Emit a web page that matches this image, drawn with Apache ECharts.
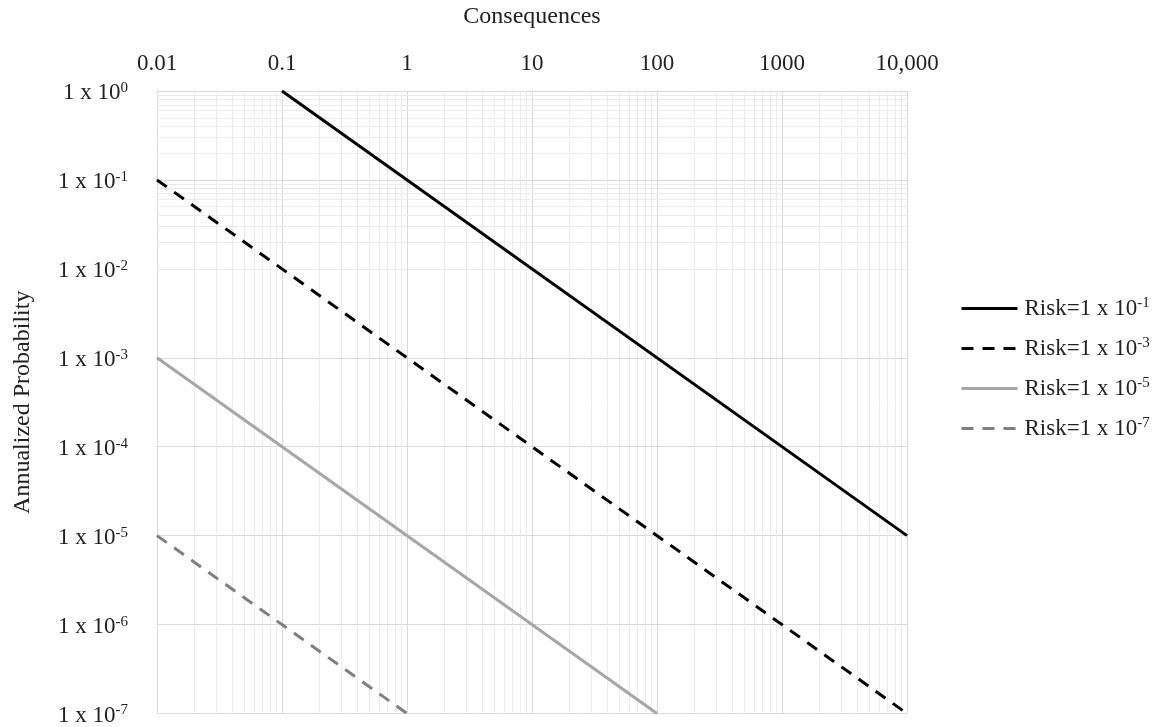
<!DOCTYPE html>
<html>
<head>
<meta charset="utf-8">
<script src="https://cdn.jsdelivr.net/npm/echarts@6/dist/echarts.min.js"></script>
<style>
  html, body { margin: 0; padding: 0; background: #fff; }
  #chart { width: 1157px; height: 727px; }
</style>
</head>
<body>
<div id="chart"></div>
<script>
// axis ticks
var xTickLabels = ['0.01', '0.1', '1', '10', '100', '1000', '10,000'];
var xMin = 0.01, xMax = 10000;
var yMin = 1e-7, yMax = 1;

// risk lines: [consequence, annualized probability] end points
var riskNames = ['Risk=1 x 10{s|-1}', 'Risk=1 x 10{s|-3}', 'Risk=1 x 10{s|-5}', 'Risk=1 x 10{s|-7}'];
var risk1 = [[0.1, 1], [10000, 1e-5]];
var risk3 = [[0.01, 0.1], [10000, 1e-7]];
var risk5 = [[0.01, 1e-3], [100, 1e-7]];
var risk7 = [[0.01, 1e-5], [1, 1e-7]];

// minor grid (2..9 within each decade)
var mantissas = [2, 3, 4, 5, 6, 7, 8, 9];
var xDecades = [0.01, 0.1, 1, 10, 100, 1000];
var yDecades = [1e-7, 1e-6, 1e-5, 1e-4, 1e-3, 1e-2, 1e-1];

var minorLines = [];
xDecades.forEach(function (d) {
  mantissas.forEach(function (m) { minorLines.push({ xAxis: m * d }); });
});
yDecades.forEach(function (d) {
  mantissas.forEach(function (m) { minorLines.push({ yAxis: m * d }); });
});

var font = 'Liberation Serif';
var textColor = '#222';
var richSup = {
  s: { fontSize: 15, fontFamily: font, color: textColor, verticalAlign: 'top', padding: [0, 0, 10, 0] }
};

function expOf(v) { return Math.round(Math.log10(v)); }

var chart = echarts.init(document.getElementById('chart'));
chart.setOption({
  animation: false,
  grid: { left: 157, right: 250, top: 91, bottom: 12 },
  legend: {
    orient: 'vertical',
    left: 955,
    top: 291,
    itemWidth: 56,
    itemHeight: 12,
    itemGap: 15,
    data: riskNames,
    itemStyle: { opacity: 0 },
    lineStyle: { width: 3 },
    textStyle: { fontFamily: font, fontSize: 23, color: textColor, lineHeight: 25, padding: [0, 0, 0, 2], rich: richSup }
  },
  xAxis: {
    type: 'log',
    logBase: 10,
    position: 'top',
    min: xMin,
    max: xMax,
    interval: 1,
    name: 'Consequences',
    nameLocation: 'middle',
    nameGap: 62,
    nameMoveOverlap: false,
    nameTextStyle: { fontFamily: font, fontSize: 24, color: textColor },
    axisLine: { show: true, lineStyle: { color: '#d9d9d9' } },
    axisTick: { show: false },
    axisLabel: {
      margin: 16,
      fontFamily: font, fontSize: 23, color: textColor,
      formatter: function (v) { return xTickLabels[expOf(v) + 2]; }
    },
    splitLine: { show: true, lineStyle: { color: '#d9d9d9', width: 1 } }
  },
  yAxis: {
    type: 'log',
    logBase: 10,
    min: yMin,
    max: yMax,
    interval: 1,
    name: 'Annualized Probability',
    nameLocation: 'middle',
    nameGap: 122,
    nameMoveOverlap: false,
    nameTextStyle: { fontFamily: font, fontSize: 24, color: textColor },
    axisLine: { show: true, lineStyle: { color: '#d9d9d9' } },
    axisTick: { show: false },
    axisLabel: {
      margin: 29,
      fontFamily: font, fontSize: 23, color: textColor,
      padding: [4, 0, 0, 0],
      formatter: function (v) { return '1 x 10{s|' + expOf(v) + '}'; },
      rich: richSup
    },
    splitLine: { show: true, lineStyle: { color: '#d9d9d9', width: 1 } }
  },
  series: [
    {
      name: 'minor',
      type: 'line',
      data: [],
      z: 1,
      markLine: {
        silent: true,
        symbol: 'none',
        label: { show: false },
        lineStyle: { color: '#ebebeb', width: 1, type: 'solid' },
        data: minorLines
      }
    },
    {
      name: riskNames[0], type: 'line', data: risk1, symbol: 'none', z: 5,
      lineStyle: { color: '#000', width: 3, type: 'solid' }, itemStyle: { color: '#000' }
    },
    {
      name: riskNames[1], type: 'line', data: risk3, symbol: 'none', z: 5,
      lineStyle: { color: '#000', width: 3, type: [12, 9] }, itemStyle: { color: '#000' }
    },
    {
      name: riskNames[2], type: 'line', data: risk5, symbol: 'none', z: 5,
      lineStyle: { color: '#a6a6a6', width: 3, type: 'solid' }, itemStyle: { color: '#a6a6a6' }
    },
    {
      name: riskNames[3], type: 'line', data: risk7, symbol: 'none', z: 5,
      lineStyle: { color: '#7f7f7f', width: 3, type: [12, 9] }, itemStyle: { color: '#7f7f7f' }
    }
  ]
});
</script>
</body>
</html>
